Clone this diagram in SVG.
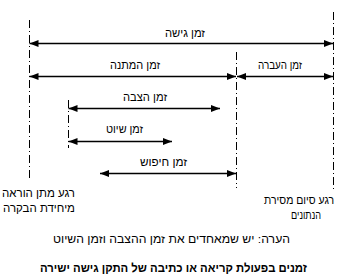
<svg xmlns="http://www.w3.org/2000/svg" width="347" height="274" viewBox="0 0 347 274">
<defs>
<marker id="ah" markerUnits="userSpaceOnUse" markerWidth="10" markerHeight="8" refX="9" refY="3.5" orient="auto-start-reverse"><path d="M0,0 L9,3.5 L0,7 z" fill="#000"/></marker>
<style>
.g{stroke:#000;stroke-width:1;stroke-dasharray:8 3 1 3;fill:none}
.a{stroke:#000;stroke-width:1.3;fill:none;marker-start:url(#ah);marker-end:url(#ah)}
text{font-family:"Liberation Sans","DejaVu Sans",sans-serif;font-size:11px;fill:#000}
.c{text-anchor:middle}
.t{font-weight:bold;font-size:12px}
</style>
</defs>
<rect width="347" height="274" fill="#fff"/>
<g id="guides">
<line class="g" x1="29.5" y1="20" x2="29.5" y2="178"/>
<line class="g" x1="333.5" y1="12" x2="333.5" y2="192"/>
<line class="g" x1="236.5" y1="52" x2="236.5" y2="188"/>
<line class="g" x1="68.5" y1="100" x2="68.5" y2="148"/>
</g>
<g id="connectors">
<line class="a" x1="29.5" y1="43.5" x2="333" y2="43.5"/>
<line class="a" x1="29.5" y1="76.5" x2="236" y2="76.5"/>
<line class="a" x1="237" y1="76.5" x2="333" y2="76.5"/>
<line class="a" x1="68.5" y1="108.5" x2="220" y2="108.5"/>
<line class="a" x1="68.5" y1="141.5" x2="172" y2="141.5"/>
<line class="a" x1="100" y1="173.5" x2="236" y2="173.5"/>
</g>
<g id="n1"><text class="c" x="185" y="37" textLength="40" lengthAdjust="spacingAndGlyphs">זמן גישה</text></g>
<g id="n2"><text class="c" x="135" y="69" textLength="50" lengthAdjust="spacingAndGlyphs">זמן המתנה</text></g>
<g id="n3"><text class="c" x="280" y="69" textLength="44" lengthAdjust="spacingAndGlyphs">זמן העברה</text></g>
<g id="n4"><text class="c" x="145" y="101" textLength="44" lengthAdjust="spacingAndGlyphs">זמן הצבה</text></g>
<g id="n5"><text class="c" x="124.5" y="133" textLength="37" lengthAdjust="spacingAndGlyphs">זמן שיוט</text></g>
<g id="n6"><text class="c" x="163.5" y="166" textLength="47" lengthAdjust="spacingAndGlyphs">זמן חיפוש</text></g>
<g id="n7"><text class="c" x="38.5" y="197" textLength="73" lengthAdjust="spacingAndGlyphs">רגע מתן הוראה</text><text class="c" x="39" y="212" textLength="72" lengthAdjust="spacingAndGlyphs">מיחידת הבקרה</text></g>
<g id="n8"><text class="c" x="299" y="204" textLength="70" lengthAdjust="spacingAndGlyphs">רגע סיום מסירת</text><text class="c" x="306" y="219" textLength="30" lengthAdjust="spacingAndGlyphs">הנתונים</text></g>
<g id="n9"><text class="c" x="171.5" y="243" textLength="237" lengthAdjust="spacingAndGlyphs">הערה: יש שמאחדים את זמן ההצבה וזמן השיוט</text></g>
<g id="n10"><text class="c t" x="173.5" y="272" textLength="267" lengthAdjust="spacingAndGlyphs">זמנים בפעולת קריאה או כתיבה של התקן גישה ישירה</text></g>
</svg>
